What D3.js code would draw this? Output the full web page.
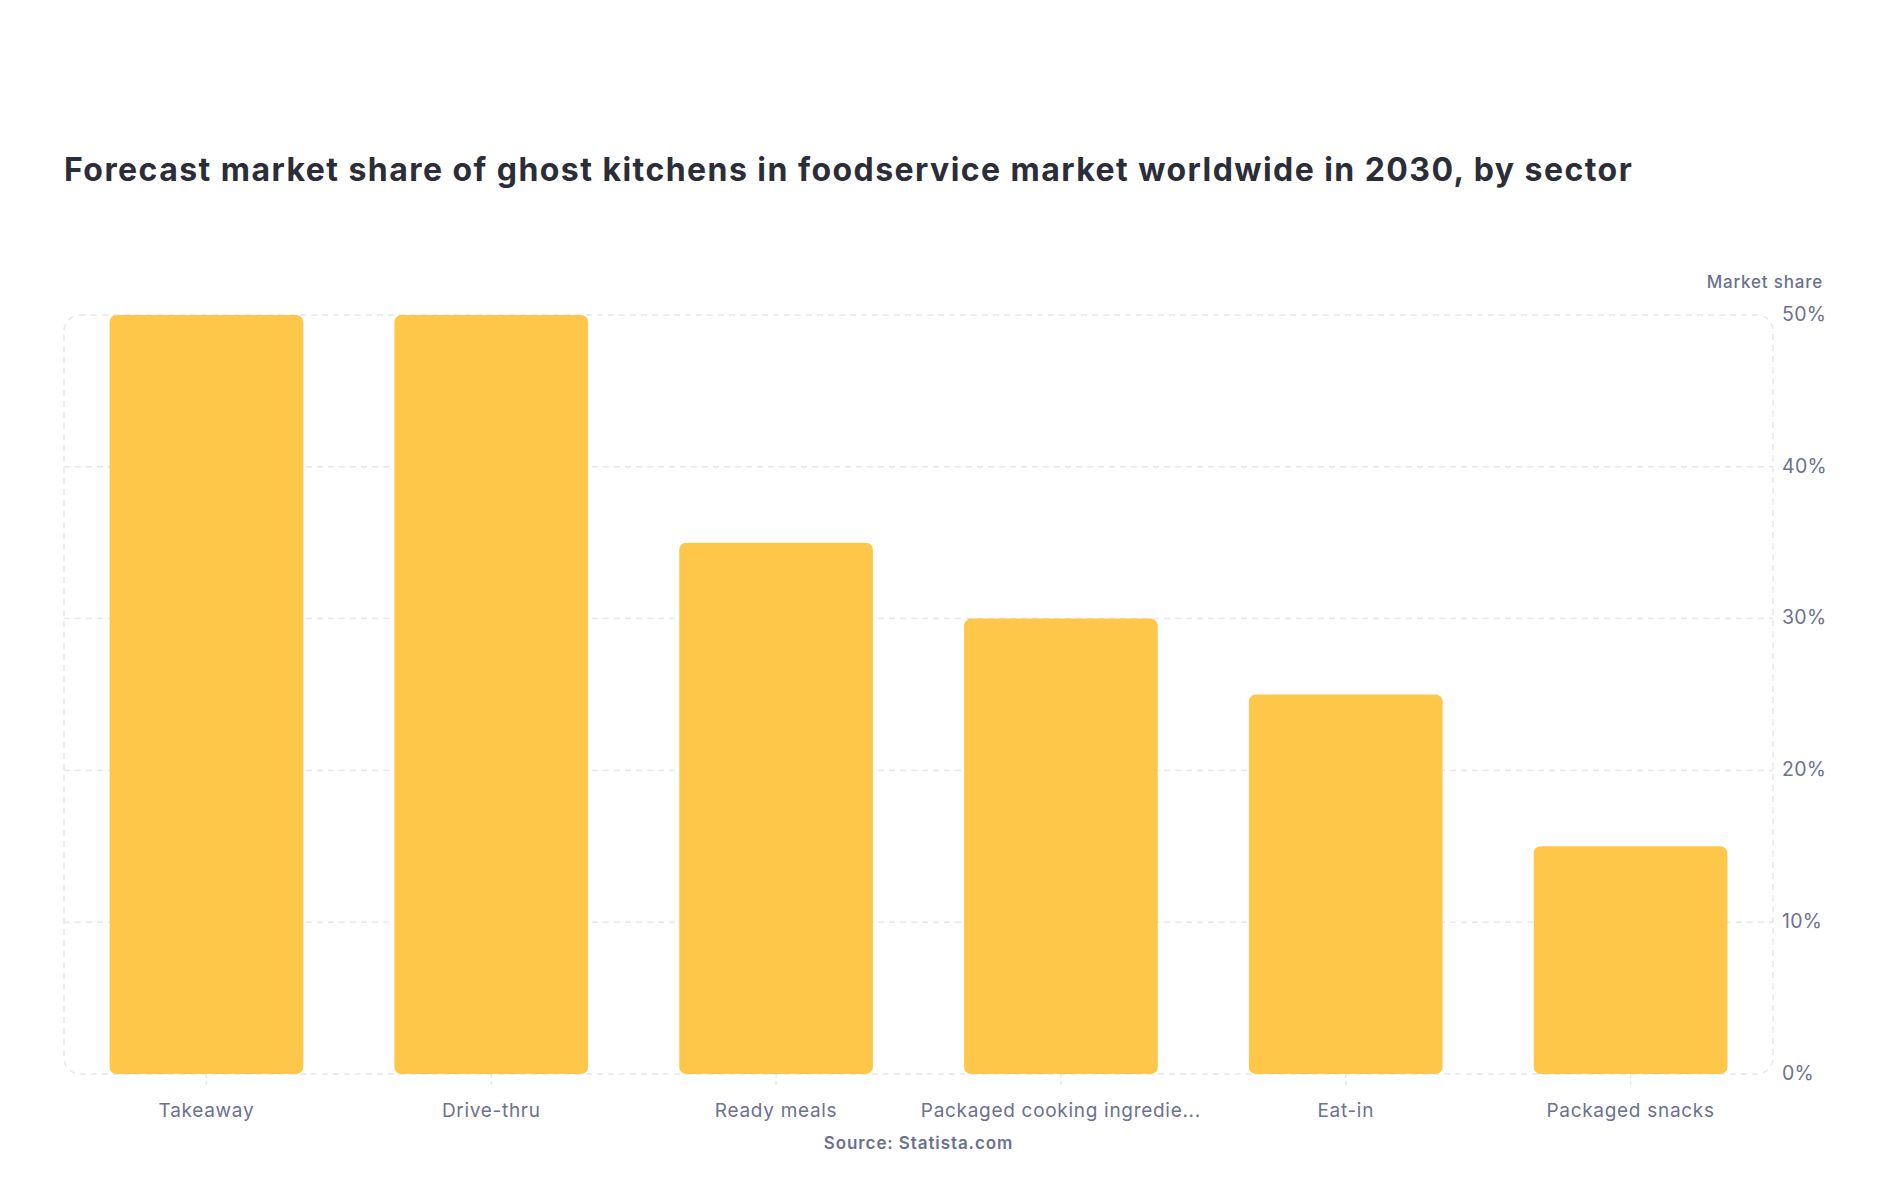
<!DOCTYPE html>
<html>
<head>
<meta charset="utf-8">
<script src="https://cdn.jsdelivr.net/npm/d3@7"></script>
<style>
  html, body { margin: 0; padding: 0; background: #ffffff; }
  svg { display: block; font-family: Inter, "Noto Sans", sans-serif; }
</style>
</head>
<body>
<svg id="chart" width="1888" height="1200"></svg>
<script>
const title = "Forecast market share of ghost kitchens in foodservice market worldwide in 2030, by sector";
const categories = ["Takeaway", "Drive-thru", "Ready meals", "Packaged cooking ingredients", "Eat-in", "Packaged snacks"];
const displayLabels = ["Takeaway", "Drive-thru", "Ready meals", "Packaged cooking ingredie...", "Eat-in", "Packaged snacks"];
const values = [50, 50, 35, 30, 25, 15];
const yTicks = [0, 10, 20, 30, 40, 50];
const yAxisTitle = "Market share";
const sourceText = "Source: Statista.com";

const svg = d3.select("#chart");
const plot = { left: 64, right: 1773, top: 315, bottom: 1074 };

const x = d3.scaleBand().domain(categories).range([plot.left, plot.right]).paddingInner(0.32).paddingOuter(0.16);
const y = d3.scaleLinear().domain([0, 50]).range([plot.bottom, plot.top]);

// Title
svg.append("text")
  .attr("x", 64).attr("y", 181)
  .attr("font-size", 32).attr("font-weight", 700)
  .attr("letter-spacing", 1.45)
  .attr("fill", "#2b2d38")
  .text(title);

// Gridlines
svg.append("g").selectAll("line").data(yTicks.filter(d => d > 0 && d < 50)).join("line")
  .attr("x1", plot.left).attr("x2", plot.right)
  .attr("y1", d => y(d)).attr("y2", d => y(d))
  .attr("stroke", "#e6e8ec").attr("stroke-width", 1.5)
  .attr("stroke-dasharray", "6,5");

// Plot border (rounded dashed)
svg.append("rect")
  .attr("x", plot.left).attr("y", plot.top)
  .attr("width", plot.right - plot.left).attr("height", plot.bottom - plot.top)
  .attr("rx", 16).attr("ry", 16)
  .attr("fill", "none").attr("stroke", "#e6e8ec").attr("stroke-width", 1.5)
  .attr("stroke-dasharray", "6,5");

// X tick marks
svg.append("g").selectAll("line").data(categories).join("line")
  .attr("x1", d => x(d) + x.bandwidth() / 2).attr("x2", d => x(d) + x.bandwidth() / 2)
  .attr("y1", plot.bottom).attr("y2", plot.bottom + 12)
  .attr("stroke", "#e6e8ec").attr("stroke-width", 1.5)
  .attr("stroke-dasharray", "4,3");

// Bars
svg.append("g").selectAll("rect").data(values).join("rect")
  .attr("x", (d, i) => x(categories[i]))
  .attr("y", d => y(d))
  .attr("width", x.bandwidth())
  .attr("height", d => y(0) - y(d))
  .attr("rx", 7).attr("ry", 7)
  .attr("fill", "#fec74a");

// X labels
svg.append("g").selectAll("text").data(categories).join("text")
  .attr("x", d => x(d) + x.bandwidth() / 2)
  .attr("y", 1117)
  .attr("text-anchor", "middle")
  .attr("font-size", 19).attr("letter-spacing", 0.7).attr("fill", "#6b7190")
  .text((d, i) => displayLabels[i]);

// Y tick labels (right)
svg.append("g").selectAll("text").data(yTicks).join("text")
  .attr("x", 1782)
  .attr("y", d => y(d))
  .attr("dy", "0.3em")
  .attr("font-size", 19.5).attr("letter-spacing", 0.3).attr("fill", "#6b7190")
  .text(d => d + "%");

// Y axis title
svg.append("text")
  .attr("x", 1823).attr("y", 288)
  .attr("text-anchor", "end")
  .attr("font-size", 17).attr("font-weight", 500).attr("letter-spacing", 0.8).attr("fill", "#6b7190")
  .text(yAxisTitle);

// Source
svg.append("text")
  .attr("x", (plot.left + plot.right) / 2).attr("y", 1149)
  .attr("text-anchor", "middle")
  .attr("font-size", 17).attr("font-weight", 600).attr("letter-spacing", 0.9).attr("fill", "#6b7190")
  .text(sourceText);
</script>
</body>
</html>
